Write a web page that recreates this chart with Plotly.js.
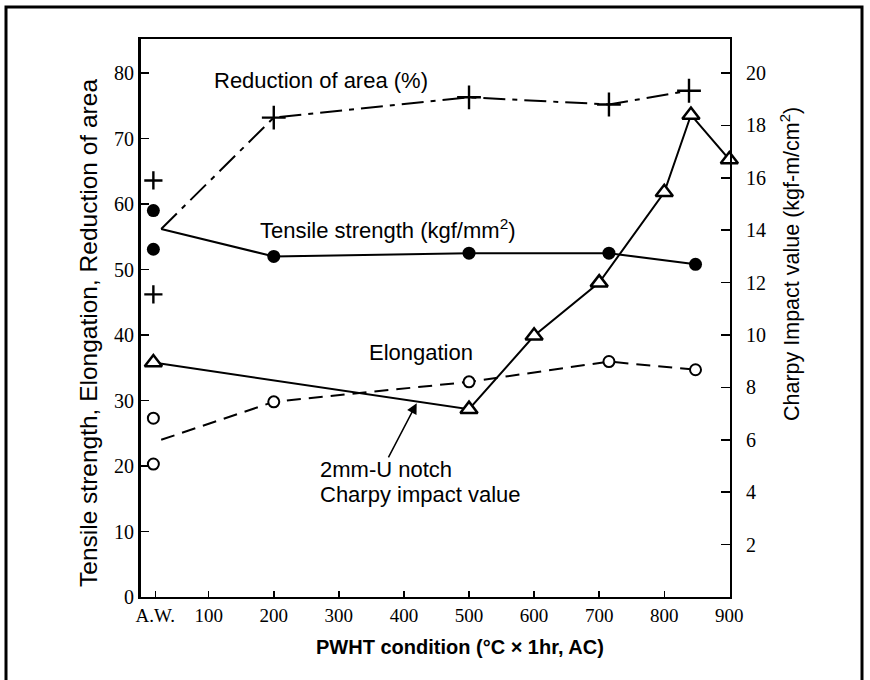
<!DOCTYPE html>
<html>
<head>
<meta charset="utf-8">
<script src="https://cdn.plot.ly/plotly-3.0.1.min.js"></script>
<style>html,body{margin:0;padding:0;background:#fff;}#chart{width:870px;height:680px;}</style>
</head>
<body>
<div id="chart"></div>
<script>
// ---- data ----
const xTickVals = [18, 100, 200, 300, 400, 500, 600, 700, 800, 900];
const xTickText = ["A.W.", "100", "200", "300", "400", "500", "600", "700", "800", "900"];
const leftTickVals = [0, 10, 20, 30, 40, 50, 60, 70, 80];
const rightTickVals = [2, 4, 6, 8, 10, 12, 14, 16, 18, 20];

const awX = 15;             // position of the as-welded (A.W.) points
const lineStartX = 27;      // where the connecting lines begin near A.W.

// Reduction of area (%)
const redAW = [63.6, 46.2];
const redStart = 56.2;
const redX = [200, 500, 715, 838];
const redY = [73.2, 76.3, 75.2, 77.3];

// Tensile strength (kgf/mm2)
const tsAW = [59.0, 53.1];
const tsStart = 56.2;
const tsX = [200, 500, 715, 848];
const tsY = [52.0, 52.5, 52.5, 50.8];

// Elongation (%)
const elAW = [27.3, 20.3];
const elStart = 24.0;
const elX = [200, 500, 715, 848];
const elY = [29.8, 32.85, 35.95, 34.7];

// 2mm-U notch Charpy impact value (kgf-m/cm2), right axis
const chX = [15, 500, 600, 700, 800, 841, 900];
const chY = [8.95, 7.17, 9.97, 12.0, 15.45, 18.4, 16.7];

// ---- traces ----
const black = "#000";
const crossMarker = (size) => ({symbol: "cross-thin-open", size: size, color: black,
                                line: {color: black, width: 2.4}});
const traces = [
  {x: [lineStartX].concat(redX), y: [redStart].concat(redY), mode: "lines",
   line: {color: black, width: 2, dash: "22px,7px,5px,7px"}, hoverinfo: "skip"},
  {x: [lineStartX].concat(tsX), y: [tsStart].concat(tsY), mode: "lines",
   line: {color: black, width: 2}, hoverinfo: "skip"},
  {x: [lineStartX].concat(elX), y: [elStart].concat(elY), mode: "lines",
   line: {color: black, width: 2, dash: "14px,8px"}, hoverinfo: "skip"},
  {x: chX, y: chY, yaxis: "y2", mode: "lines",
   line: {color: black, width: 2}, hoverinfo: "skip", cliponaxis: false},
  {x: redAW.map(() => awX), y: redAW, mode: "markers", marker: crossMarker(13), cliponaxis: false},
  {x: redX, y: redY, mode: "markers", marker: crossMarker(17), cliponaxis: false},
  {x: tsAW.map(() => awX).concat(tsX), y: tsAW.concat(tsY), mode: "markers",
   marker: {symbol: "circle", size: 13, color: black}, cliponaxis: false},
  {x: elAW.map(() => awX).concat(elX), y: elAW.concat(elY), mode: "markers",
   marker: {symbol: "circle", size: 11, color: "#fff", line: {color: black, width: 2}}, cliponaxis: false},
  {x: chX, y: chY, yaxis: "y2", mode: "markers",
   marker: {symbol: "triangle-up", size: 15, color: "#fff", line: {color: black, width: 2.5}}, cliponaxis: false}
];

const sans = "Liberation Sans, Arial, sans-serif";
const serif = "Liberation Serif, Times New Roman, serif";
const annFont = {family: sans, size: 22, color: black};
const W = 870, H = 680, L = 141, R = 140, T = 39, B = 83;
const pw = W - L - R, ph = H - T - B;
const px2paperX = p => (p - L) / pw;
const px2paperY = p => (H - B - p) / ph;

const layout = {
  width: W, height: H,
  margin: {l: L, r: R, t: T, b: B},
  paper_bgcolor: "#fff", plot_bgcolor: "#fff",
  showlegend: false,
  xaxis: {
    range: [-4, 901], tickvals: xTickVals, ticktext: xTickText,
    ticks: "inside", ticklen: 6, tickwidth: 1.5, tickcolor: black,
    showline: true, linewidth: 2, linecolor: black, mirror: true,
    showgrid: false, zeroline: false,
    tickfont: {family: serif, size: 19, color: black}
  },
  yaxis: {
    range: [0, 85.2], tickvals: leftTickVals,
    ticks: "inside", ticklen: 8, tickwidth: 1.5, tickcolor: black,
    showline: true, linewidth: 3, linecolor: black,
    showgrid: false, zeroline: false,
    tickfont: {family: serif, size: 20, color: black}
  },
  yaxis2: {
    overlaying: "y", side: "right", range: [0, 21.3], tickvals: rightTickVals,
    ticks: "inside", ticklen: 9, tickwidth: 1.5, tickcolor: black,
    showline: true, linewidth: 2, linecolor: black,
    showgrid: false, zeroline: false, ticklabelstandoff: 10,
    tickfont: {family: serif, size: 20, color: black}
  },
  annotations: [
    // axis titles
    {xref: "paper", yref: "paper", x: px2paperX(460), y: px2paperY(647),
     text: "<b>PWHT condition (°C × 1hr, AC)</b>", showarrow: false,
     xanchor: "center", yanchor: "middle", font: {family: sans, size: 20, color: black}},
    {xref: "paper", yref: "paper", x: px2paperX(88), y: px2paperY(333), textangle: -90,
     text: "Tensile strength, Elongation, Reduction of area", showarrow: false,
     xanchor: "center", yanchor: "middle", font: {family: sans, size: 24.5, color: black}},
    {xref: "paper", yref: "paper", x: px2paperX(790), y: px2paperY(264), textangle: -90,
     text: "Charpy Impact value (kgf-m/cm<sup>2</sup>)", showarrow: false,
     xanchor: "center", yanchor: "middle", font: {family: sans, size: 21.5, color: black}},
    // in-plot labels
    {x: 105, y: 78.8, xref: "x", yref: "y", text: "Reduction of area (%)", showarrow: false,
     xanchor: "left", yanchor: "middle", font: annFont},
    {x: 175, y: 56.2, xref: "x", yref: "y", text: "Tensile strength (kgf/mm<sup>2</sup>)", showarrow: false,
     xanchor: "left", yanchor: "middle", font: annFont},
    {x: 343, y: 37.3, xref: "x", yref: "y", text: "Elongation", showarrow: false,
     xanchor: "left", yanchor: "middle", font: annFont},
    {x: 268, y: 19.4, xref: "x", yref: "y", text: "2mm-U notch", showarrow: false,
     xanchor: "left", yanchor: "middle", font: annFont},
    {x: 268, y: 15.7, xref: "x", yref: "y", text: "Charpy impact value", showarrow: false,
     xanchor: "left", yanchor: "middle", font: annFont},
    {x: 419.6, y: 29.6, xref: "x", yref: "y", ax: 375, ay: 21.1, axref: "x", ayref: "y",
     text: "", showarrow: true, arrowhead: 2, arrowsize: 1.4, arrowwidth: 1.5, arrowcolor: black}
  ],
  shapes: [
    {type: "rect", xref: "paper", yref: "paper",
     x0: px2paperX(6), x1: px2paperX(862), y0: px2paperY(700), y1: px2paperY(7),
     line: {color: black, width: 3}, fillcolor: "rgba(0,0,0,0)", layer: "above"}
  ]
};

Plotly.newPlot("chart", traces, layout, {displayModeBar: false, staticPlot: true});
</script>
</body>
</html>
